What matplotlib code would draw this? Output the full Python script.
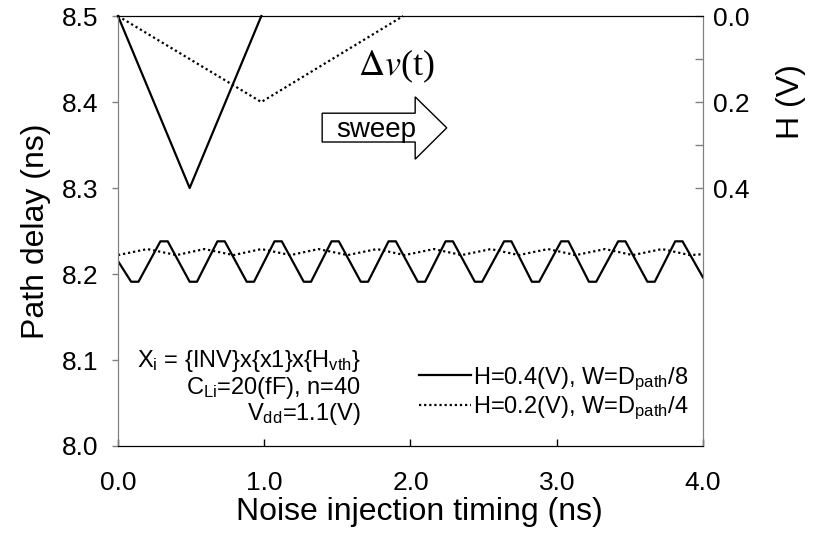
import matplotlib
matplotlib.use('Agg')
import matplotlib.pyplot as plt
from matplotlib.patches import Polygon

plt.rcParams['font.family'] = ['Liberation Sans', 'DejaVu Sans']
plt.rcParams['mathtext.fontset'] = 'custom'
plt.rcParams['mathtext.rm'] = 'Liberation Sans'
plt.rcParams['mathtext.it'] = 'Liberation Sans:italic'

# path delay vs. noise injection timing, H=0.4V pulse (solid)
t_a = [0.0, 0.09, 0.14, 0.29, 0.34, 0.49, 0.54, 0.68, 0.73, 0.88, 0.93,
       1.07, 1.12, 1.27, 1.32, 1.46, 1.51, 1.66, 1.71, 1.85, 1.90,
       2.05, 2.10, 2.24, 2.29, 2.44, 2.49, 2.64, 2.69, 2.83, 2.88,
       3.03, 3.08, 3.22, 3.27, 3.42, 3.47, 3.62, 3.67, 3.81, 3.86, 4.0]
d_a = [8.215, 8.191, 8.191, 8.238, 8.238, 8.191, 8.191, 8.238, 8.238, 8.191, 8.191,
       8.238, 8.238, 8.191, 8.191, 8.238, 8.238, 8.191, 8.191, 8.238, 8.238,
       8.191, 8.191, 8.238, 8.238, 8.191, 8.191, 8.238, 8.238, 8.191, 8.191,
       8.238, 8.238, 8.191, 8.191, 8.238, 8.238, 8.191, 8.191, 8.238, 8.238, 8.196]

# H=0.2V pulse (dotted)
t_b = [0.0, 0.20, 0.40, 0.59, 0.79, 0.98, 1.18, 1.37, 1.57, 1.77, 1.96,
       2.16, 2.35, 2.55, 2.74, 2.94, 3.13, 3.33, 3.52, 3.72, 3.91, 4.0]
d_b = [8.222, 8.229, 8.222, 8.229, 8.222, 8.229, 8.222, 8.229, 8.222, 8.229, 8.222,
       8.229, 8.222, 8.229, 8.222, 8.229, 8.222, 8.229, 8.222, 8.229, 8.222, 8.223]

# noise waveforms on the right axis
pulse_a_t = [0.0, 0.49, 0.98]
pulse_a_h = [0.0, 0.4, 0.0]
pulse_b_t = [0.0, 0.98, 1.95]
pulse_b_h = [0.0, 0.2, 0.0]

labels = ['H=0.4(V), W=D$_{\\mathrm{path}}$/8', 'H=0.2(V), W=D$_{\\mathrm{path}}$/4']

fig = plt.figure(figsize=(8.2, 5.34), dpi=100)
ax = fig.add_axes([0.1439, 0.1648, 0.7134, 0.8052])
ax2 = ax.twinx()

dot = (0, (1, 1.3))
l1, = ax.plot(t_a, d_a, color='black', lw=1.6, label=labels[0])
l2, = ax.plot(t_b, d_b, color='black', lw=1.6, ls=dot, label=labels[1])

ax2.plot(pulse_a_t, pulse_a_h, color='black', lw=1.6, clip_on=False)
ax2.plot(pulse_b_t, pulse_b_h, color='black', lw=1.6, ls=dot, clip_on=False)

ax.set_xlim(0, 4.0)
ax.set_ylim(8.0, 8.5)
ax2.set_ylim(1.0, 0.0)

ax.set_xticks([0, 1, 2, 3, 4])
ax.set_xticklabels(['0.0', '1.0', '2.0', '3.0', '4.0'])
ax.set_yticks([8.0, 8.1, 8.2, 8.3, 8.4, 8.5])
ax.set_yticklabels(['8.0', '8.1', '8.2', '8.3', '8.4', '8.5'])
ax2.set_yticks([0.0, 0.2, 0.4])
ax2.set_yticklabels(['0.0', '0.2', '0.4'])
ax2.set_yticks([0.1, 0.3], minor=True)

ax.tick_params(axis='x', direction='in', length=5, width=1, pad=18, labelsize=19)
ax.tick_params(axis='y', direction='out', length=4, width=1, pad=10, labelsize=19,
               color='#808080')
ax2.tick_params(axis='y', which='both', direction='in', length=6, width=1, pad=7,
                labelsize=19, color='#808080')

for a in (ax, ax2):
    a.spines['left'].set_color('#808080')
    a.spines['right'].set_color('#808080')
    a.spines['top'].set_color('black')
    a.spines['bottom'].set_color('black')

ax.set_xlabel('Noise injection timing (ns)', fontsize=23)
ax.xaxis.set_label_coords(0.515, -0.153)
ax.xaxis.label.set_va('center')
ax.set_ylabel('Path delay (ns)', fontsize=23)
ax.yaxis.set_label_coords(-0.140, 0.5)
ax.yaxis.label.set_va('center')
ax2.set_ylabel('H (V)', fontsize=23)
ax2.yaxis.set_label_coords(1.150, 0.802)
ax2.yaxis.label.set_va('center')

# conditions
ax.text(0.415, 0.184, 'X$_{\\mathrm{i}}$ = {INV}x{x1}x{H$_{\\mathrm{vth}}$}',
        transform=ax.transAxes, ha='right', va='baseline', fontsize=17)
ax.text(0.415, 0.122, 'C$_{\\mathrm{Li}}$=20(fF), n=40',
        transform=ax.transAxes, ha='right', va='baseline', fontsize=17)
ax.text(0.415, 0.060, 'V$_{\\mathrm{dd}}$=1.1(V)',
        transform=ax.transAxes, ha='right', va='baseline', fontsize=17)

# sweep arrow
arrow = Polygon([(0.349, 0.774), (0.508, 0.774), (0.508, 0.812), (0.562, 0.740),
                 (0.508, 0.667), (0.508, 0.707), (0.349, 0.707)],
                closed=True, transform=ax.transAxes, fc='white', ec='black', lw=1,
                zorder=3)
ax.add_patch(arrow)
ax.text(0.441, 0.719, 'sweep', transform=ax.transAxes, ha='center', va='baseline',
        fontsize=20, zorder=4)
ax.text(0.475, 0.862, '$\\Delta v$(t)', transform=ax.transAxes, ha='center',
        va='baseline', fontsize=26, family='Liberation Serif', math_fontfamily='stix')

ax.legend(handles=[l1, l2], loc='lower right', bbox_to_anchor=(0.975, 0.055),
          frameon=False, fontsize=17, handlelength=2.2, handletextpad=0.1,
          labelspacing=0.1, borderpad=0, borderaxespad=0)

fig.savefig('out.png', dpi=100)
